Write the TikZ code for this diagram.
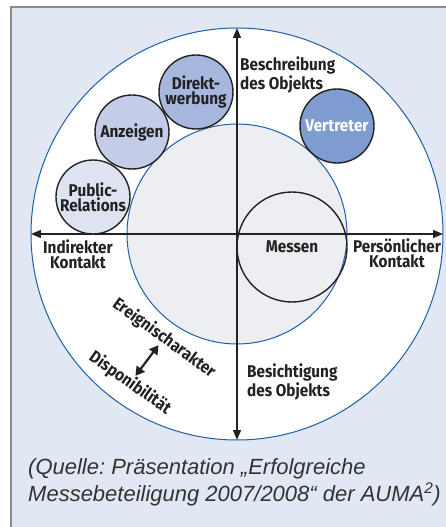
\documentclass[tikz,border=0pt]{standalone}
\usepackage{fontspec}
\setmainfont{Fira Sans}[FakeStretch=0.9]
\newfontfamily\capfont{Liberation Sans}
\usetikzlibrary{arrows.meta}
\frenchspacing

\definecolor{panel}{HTML}{E1E7F3}
\definecolor{ring}{HTML}{1D5FA9}
\definecolor{core}{HTML}{ECEEF1}
\definecolor{blueA}{HTML}{DEE3F1}
\definecolor{blueB}{HTML}{C4CCE7}
\definecolor{blueC}{HTML}{A8B7DE}
\definecolor{blueD}{HTML}{7E9CD0}
\definecolor{ink}{HTML}{222222}

\tikzset{
  lbl/.style={font=\fontsize{17}{15}\selectfont\bfseries, text=ink, inner sep=0pt},
  bubble/.style={lbl, circle, draw=ink, line width=1.4pt, minimum size=74pt, align=center},
  axis/.style={draw=ink, line width=1.3pt, {Triangle[length=10pt,width=8pt]}-{Triangle[length=10pt,width=8pt]}},
  dbl/.style={draw=ink, line width=2.2pt, {Triangle[length=9pt,width=10pt]}-{Triangle[length=9pt,width=10pt]}},
}

\begin{document}
\begin{tikzpicture}[x=1pt,y=1pt]
  \useasboundingbox (-237,-293) rectangle (209,234);
  \fill[white] (-237,-293) rectangle (209,234);
  \filldraw[fill=panel, draw=gray!90, line width=1.5pt] (-226,-300) rectangle (220,227);

  % the two rings
  \draw[ring, line width=1pt, fill=white] (0,0) circle (206);
  \draw[ring, line width=1pt, fill=core] (0,0) circle (110);

  \coordinate (W) at (180:206);
  \coordinate (E) at (0:206);
  \coordinate (N) at (90:206);
  \coordinate (S) at (270:206);
  \draw[axis] (W) -- (E);
  \draw[axis] (N) -- (S);

  \node[bubble, minimum size=110pt] (messen) at (55,-13) {Messen};

  \foreach \nm/\pos/\col/\txt in {pr/{-144,37}/blueA/{Public-\\Relations},
                                 anz/{-105,102}/blueB/Anzeigen,
                                 dir/{-41,142}/blueC/{Direkt-\\werbung}} {
    \node[bubble, fill=\col] (\nm) at (\pos) {\txt};
  }
  \node[bubble, fill=blueD, text=white] (vert) at (100,108) {Vertreter};

  \node[lbl, anchor=west, align=left] (beschr) at (3,159) {Beschreibung\\des Objekts};
  \node[lbl, anchor=west, align=left] (besicht) at (10,-148) {Besichtigung\\des Objekts};
  \node[lbl, align=center] (indir) at (-159,-20) {Indirekter\\Kontakt};
  \node[lbl, align=center] (pers) at (160,-19) {Persönlicher\\Kontakt};

  \node[lbl, rotate=-36] (ereig) at (-73,-104) {Ereignischarakter};
  \node[lbl, rotate=-35] (dispo) at (-107,-149) {Disponibilität};
  \draw[dbl] (ereig) -- (dispo);

  \node[anchor=north west, align=left, inner sep=0pt, text=black!80,
        font=\capfont\itshape\fontsize{22}{27}\selectfont] (quelle) at (-209,-224)
        {(Quelle: Präsentation „Erfolgreiche\\Messebeteiligung 2007/2008“ der AUMA\textsuperscript{2})};
\end{tikzpicture}
\end{document}
